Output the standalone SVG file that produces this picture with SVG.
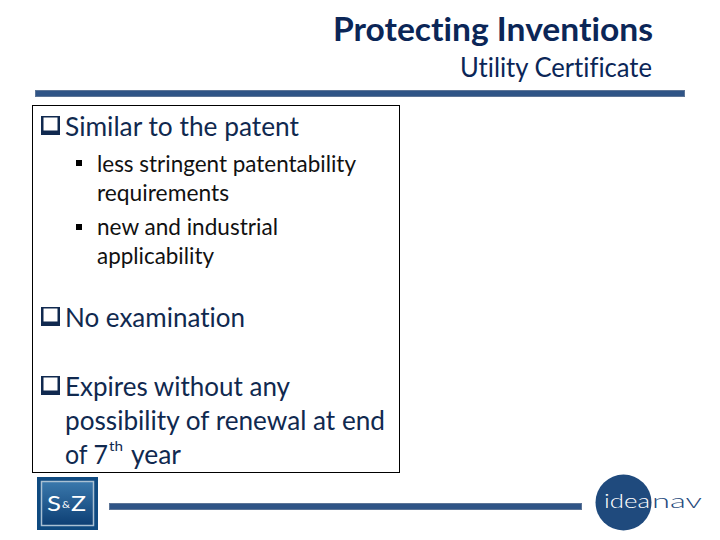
<svg xmlns="http://www.w3.org/2000/svg" width="720" height="540" viewBox="0 0 720 540">
<style>
text{font-family:Lato,"Open Sans",sans-serif;font-variant-ligatures:none}
.h{fill:#0b2657}
.big{font-size:26.500px;fill:#10294f}
.sm{font-size:22.500px;fill:#111}
.bar{fill:#2f5486;stroke:#5d7597;stroke-width:1}
</style>
<defs><linearGradient id="g" x1="0" y1="0" x2="0" y2="1"><stop offset="0" stop-color="#3a78ac"/><stop offset="1" stop-color="#0d3f74"/></linearGradient></defs>
<rect width="720" height="540" fill="#fff"/>
<text class="h" x="333" y="41" font-size="33" font-weight="700" textLength="320" lengthAdjust="spacingAndGlyphs">Protecting Inventions</text>
<text class="h" x="460" y="77" font-size="26" textLength="192" lengthAdjust="spacingAndGlyphs">Utility Certificate</text>
<rect class="bar" x="35.500" y="90.500" width="649" height="6"/>
<rect x="32.500" y="105.500" width="367" height="367" fill="#fff" stroke="#000" stroke-width="1"/>
<g id="checkboxes" fill="#10294f">
<path id="c1" fill-rule="evenodd" d="M41 116h19v19h-19zM43.500 117.500v13h14v-13z"/>
<path fill-rule="evenodd" d="M41 307h19v19h-19zM43.500 308.500v13h14v-13z"/>
<path fill-rule="evenodd" d="M41 376h19v19h-19zM43.500 377.500v13h14v-13z"/>
</g>
<text class="big" x="65" y="136" textLength="234" lengthAdjust="spacingAndGlyphs">Similar to the patent</text>
<rect x="76" y="160" width="6" height="6" fill="#000"/>
<text class="sm" x="97" y="171.500" textLength="259" lengthAdjust="spacingAndGlyphs">less stringent patentability</text>
<text class="sm" x="97" y="200.500" textLength="132" lengthAdjust="spacingAndGlyphs">requirements</text>
<rect x="76" y="224" width="6" height="6" fill="#000"/>
<text class="sm" x="97" y="234.500" textLength="181" lengthAdjust="spacingAndGlyphs">new and industrial</text>
<text class="sm" x="97" y="263.500" textLength="117" lengthAdjust="spacingAndGlyphs">applicability</text>
<text class="big" x="65" y="327" textLength="180" lengthAdjust="spacingAndGlyphs">No examination</text>
<text class="big" x="65" y="396" textLength="225" lengthAdjust="spacingAndGlyphs">Expires without any</text>
<text class="big" x="65" y="430" textLength="320" lengthAdjust="spacingAndGlyphs">possibility of renewal at end</text>
<text class="big" x="65" y="464" textLength="43" lengthAdjust="spacingAndGlyphs">of 7</text>
<text x="109" y="451" font-size="14" fill="#10294f" textLength="14" lengthAdjust="spacingAndGlyphs">th</text>
<text class="big" x="131" y="464" textLength="50" lengthAdjust="spacingAndGlyphs">year</text>
<g id="logo-sz">
<rect x="37" y="477" width="61" height="53" fill="#0f4a80"/>
<rect x="41.500" y="481.500" width="52" height="44" fill="url(#g)" stroke="#a9c0d3" stroke-width="1.500"/>
<text x="47" y="511" font-size="21" fill="#fff" textLength="14" lengthAdjust="spacingAndGlyphs">S</text>
<text x="62" y="508" font-size="9" fill="#fff" textLength="8" lengthAdjust="spacingAndGlyphs">&amp;</text>
<text x="71" y="511" font-size="21" fill="#fff" textLength="15" lengthAdjust="spacingAndGlyphs">Z</text>
</g>
<rect class="bar" x="109.500" y="503.500" width="472" height="6"/>
<g id="logo-ideanav">
<circle cx="623.500" cy="502.500" r="28" fill="#1f4a7d"/>
<text x="604" y="507.500" font-size="19" font-weight="300" fill="#fff" textLength="46" lengthAdjust="spacingAndGlyphs">idea</text>
<text x="652" y="507.500" font-size="19" font-weight="300" fill="#1f4a7d" textLength="50" lengthAdjust="spacingAndGlyphs">nav</text>
</g>
</svg>
